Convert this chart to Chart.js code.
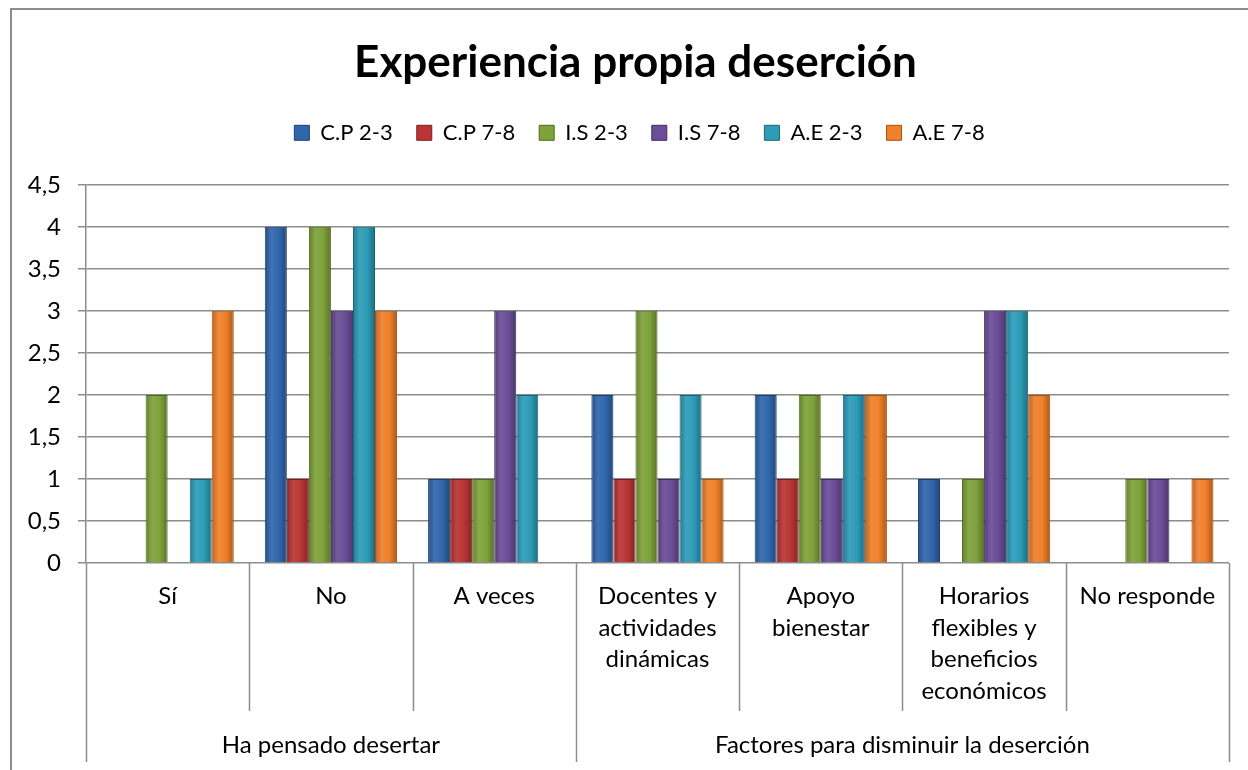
<!DOCTYPE html>
<html>
<head>
<meta charset="utf-8">
<script src="https://cdn.jsdelivr.net/npm/chart.js@4.4.1/dist/chart.umd.min.js"></script>
<style>
html,body{margin:0;padding:0;background:#fff;}
#wrap{width:1248px;height:770px;position:relative;}
</style>
</head>
<body>
<div id="wrap"><canvas id="c" width="1248" height="770"></canvas></div>
<script>
const categories = [
  ["Sí"],
  ["No"],
  ["A veces"],
  ["Docentes y", "actividades", "dinámicas"],
  ["Apoyo", "bienestar"],
  ["Horarios", "flexibles y", "beneficios", "económicos"],
  ["No responde"]
];
const groups = ["Ha pensado desertar", "Factores para disminuir la deserción"];
const groupSpans = [[0, 2], [3, 6]];
const seriesNames = ["C.P 2-3", "C.P 7-8", "I.S 2-3", "I.S 7-8", "A.E 2-3", "A.E 7-8"];
const cp23 = [0, 4, 1, 2, 2, 1, 0];
const cp78 = [0, 1, 1, 1, 1, 0, 0];
const is23 = [2, 4, 1, 3, 2, 1, 1];
const is78 = [0, 3, 3, 1, 1, 3, 1];
const ae23 = [1, 4, 2, 2, 2, 3, 0];
const ae78 = [3, 3, 0, 1, 2, 2, 1];
const yTicks = [0, 0.5, 1, 1.5, 2, 2.5, 3, 3.5, 4, 4.5];
const title = "Experiencia propia deserción";

const colors = ["#3066ac", "#b93535", "#7fa23a", "#6b4d98", "#2d9cb8", "#f0802a"];
const borders = ["#1d3f6e", "#7a1f1f", "#4f6a20", "#3f2b60", "#1a6478", "#a8520f"];
const seriesValues = [cp23, cp78, is23, is78, ae23, ae78];

const FONT = "Lato, 'Liberation Sans', sans-serif";
const CAT_PCT = 0.81;

function shade(hex, f) {
  const n = parseInt(hex.slice(1), 16);
  let r = (n >> 16) & 255, g = (n >> 8) & 255, b = n & 255;
  const t = v => Math.max(0, Math.min(255, Math.round(f >= 1 ? v + (255 - v) * (f - 1) : v * f)));
  return `rgb(${t(r)},${t(g)},${t(b)})`;
}

function barFill(ctx) {
  const chart = ctx.chart;
  const di = ctx.datasetIndex;
  const base = colors[di];
  const xs = chart.scales && chart.scales.x;
  if (!xs || ctx.type !== 'data' || !isFinite(xs.getPixelForValue(0))) return base;
  const catW = xs.width / categories.length;
  const barW = catW * CAT_PCT / seriesNames.length;
  const center = xs.getPixelForValue(ctx.dataIndex);
  const left = center - catW * CAT_PCT / 2 + di * barW;
  const g = chart.ctx.createLinearGradient(left, 0, left + barW, 0);
  g.addColorStop(0, shade(base, 0.78));
  g.addColorStop(0.3, shade(base, 1.08));
  g.addColorStop(0.65, base);
  g.addColorStop(1, shade(base, 0.7));
  return g;
}

const datasets = seriesNames.map((n, i) => ({
  label: n,
  data: seriesValues[i],
  backgroundColor: barFill,
  borderColor: borders[i],
  borderWidth: 1,
  categoryPercentage: CAT_PCT,
  barPercentage: 1.0
}));

const decorPlugin = {
  id: 'decor',
  afterLayout(chart) {
    if (chart.titleBlock) { chart.titleBlock.left += 21; chart.titleBlock.right += 21; }
    if (chart.legend) { chart.legend.left += 25; chart.legend.right += 25; }
  },
  beforeDraw(chart) {
    const ctx = chart.ctx;
    ctx.save();
    ctx.fillStyle = '#fff';
    ctx.fillRect(0, 0, chart.width, chart.height);
    ctx.restore();
  },
  afterDraw(chart) {
    const ctx = chart.ctx;
    const x = chart.scales.x;
    const area = chart.chartArea;
    const n = categories.length;
    const bounds = [];
    for (let i = 0; i <= n; i++) {
      let px;
      if (i === 0) px = area.left;
      else if (i === n) px = area.right;
      else px = (x.getPixelForValue(i - 1) + x.getPixelForValue(i)) / 2;
      bounds.push(px);
    }
    const groupEdges = new Set([0, n]);
    groupSpans.forEach(s => { groupEdges.add(s[0]); groupEdges.add(s[1] + 1); });
    ctx.save();
    ctx.strokeStyle = '#8c8c8c';
    ctx.lineWidth = 1.5;
    bounds.forEach((px, i) => {
      const yEnd = groupEdges.has(i) ? 762 : 711;
      ctx.beginPath();
      ctx.moveTo(Math.round(px) + 0.5, area.bottom);
      ctx.lineTo(Math.round(px) + 0.5, yEnd);
      ctx.stroke();
    });
    ctx.fillStyle = '#000';
    ctx.font = "24px " + FONT;
    ctx.textAlign = 'center';
    ctx.textBaseline = 'middle';
    groupSpans.forEach((s, gi) => {
      const cx = (bounds[s[0]] + bounds[s[1] + 1]) / 2;
      ctx.fillText(groups[gi], cx, 745);
    });
    ctx.strokeStyle = '#8c8c8c';
    ctx.lineWidth = 2;
    ctx.beginPath();
    ctx.moveTo(11, 770);
    ctx.lineTo(11, 9);
    ctx.lineTo(1248, 9);
    ctx.stroke();
    ctx.restore();
  }
};

new Chart(document.getElementById('c'), {
  type: 'bar',
  data: { labels: categories, datasets: datasets },
  plugins: [decorPlugin],
  options: {
    responsive: false,
    animation: false,
    layout: { padding: { left: 0, right: 19, top: 0, bottom: 0 } },
    plugins: {
      title: {
        display: true,
        text: title,
        color: '#000',
        font: { family: FONT, size: 44, weight: 'bold', lineHeight: 1.2 },
        padding: { top: 36, bottom: 9 }
      },
      subtitle: {
        display: true,
        text: ' ',
        weight: 500,
        position: 'top',
        font: { size: 1, lineHeight: 1 },
        padding: { top: 2, bottom: 28 }
      },
      legend: {
        display: true,
        position: 'top',
        labels: {
          color: '#000',
          font: { family: FONT, size: 22 },
          boxWidth: 15,
          boxHeight: 15,
          padding: 24,
          generateLabels(chart) {
            const items = Chart.defaults.plugins.legend.labels.generateLabels(chart);
            items.forEach(it => { it.fillStyle = colors[it.datasetIndex]; it.strokeStyle = borders[it.datasetIndex]; });
            return items;
          }
        }
      },
      tooltip: { enabled: false }
    },
    scales: {
      x: {
        grid: { display: false, drawTicks: false },
        border: { display: false },
        ticks: {
          color: '#000',
          font: { family: FONT, size: 24, lineHeight: 1.31 },
          padding: 18,
          maxRotation: 0,
          autoSkip: false
        },
        afterFit(scale) { scale.height = 207; }
      },
      y: {
        min: 0,
        max: 4.5,
        afterBuildTicks(scale) { scale.ticks = yTicks.map(v => ({ value: v })); },
        grid: { color: '#8c8c8c', lineWidth: 1.5, tickLength: 8 },
        border: { color: '#8c8c8c', width: 1.5 },
        ticks: {
          color: '#000',
          font: { family: FONT, size: 24 },
          padding: 17,
          callback: v => String(v).replace('.', ',')
        },
        afterFit(scale) { scale.width = 86; }
      }
    }
  }
});
</script>
</body>
</html>
